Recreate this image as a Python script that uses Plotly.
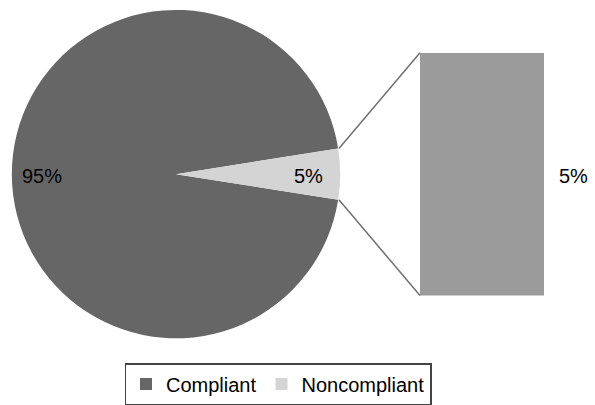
import math
import plotly.graph_objects as go

# Data
categories = ["Compliant", "Noncompliant"]
values = [95, 5]
bar_category = ["Noncompliant"]
bar_values = [5]

W, H = 595, 405
pie_colors = ["#666666", "#d4d4d4"]
bar_color = "#9b9b9b"
font_family = "Liberation Sans, Arial, sans-serif"
FS = 20

# pie domain (paper)
pdx = [11 / W, 341 / W]
pdy = [(H - 340) / H, (H - 10) / H]
# bar axis domains
bdx = [420 / W, 544 / W]
bdy = [(H - 297) / H, (H - 53) / H]

fig = go.Figure()

total = sum(values)
small_angle = 360 * values[1] / total
big_angle = 360 * values[0] / total
# clockwise from 12 o'clock; small slice centred at 3 o'clock
rotation = (90 - small_angle / 2 - big_angle) % 360

fig.add_trace(go.Pie(
    labels=categories, values=values, sort=False, direction="clockwise",
    rotation=rotation, marker=dict(colors=pie_colors, line=dict(width=0)),
    textinfo="none", hoverinfo="label+percent",
    domain=dict(x=pdx, y=pdy), showlegend=True,
))

fig.add_trace(go.Bar(
    x=bar_category, y=bar_values, width=1, marker=dict(color=bar_color, line=dict(width=0)),
    showlegend=False, xaxis="x", yaxis="y",
))

# geometry of the pie in pixels
cx = (pdx[0] + pdx[1]) / 2 * W
cy = H - (pdy[0] + pdy[1]) / 2 * H
r = min((pdx[1] - pdx[0]) * W, (pdy[1] - pdy[0]) * H) / 2

annotations = []
annotations.append(dict(
    x=(cx - 0.81 * r) / W, y=1 - cy / H, xanchor="center", yanchor="middle", yshift=-2,
    xref="paper", yref="paper", text=f"{values[0]}%", showarrow=False,
    font=dict(size=FS, color="#000000", family=font_family)))
annotations.append(dict(
    x=(cx + 0.8 * r) / W, y=1 - cy / H, xanchor="center", yanchor="middle", yshift=-2,
    xref="paper", yref="paper",
    text=f"{values[1]}%", showarrow=False,
    font=dict(size=FS, color="#000000", family=font_family)))
annotations.append(dict(
    x=0.5, y=bar_values[0] / 2, xref="x", yref="y", text=f"{bar_values[0]}%",
    showarrow=False, xanchor="center", yanchor="middle", xshift=29, yshift=-2,
    font=dict(size=FS, color="#000000", family=font_family)))

# connector lines from the slice edges to the bar corners
half = math.radians(small_angle / 2)
shapes = []
for sgn, ybar in ((1, bdy[1]), (-1, bdy[0])):
    px = cx + r * math.cos(half)
    py = cy - sgn * r * math.sin(half)
    shapes.append(dict(type="line", xref="paper", yref="paper",
                       x0=px / W, y0=1 - py / H, x1=bdx[0], y1=ybar,
                       line=dict(color="#707070", width=1.5)))

fig.update_layout(
    width=W, height=H, margin=dict(l=0, r=0, t=0, b=0),
    paper_bgcolor="white", plot_bgcolor="white",
    font=dict(family=font_family, size=FS, color="#000000"),
    xaxis=dict(domain=bdx, range=[-0.5, 0.5], visible=False, fixedrange=True),
    yaxis=dict(domain=bdy, range=[0, bar_values[0]], visible=False, fixedrange=True),
    legend=dict(orientation="h", x=278 / W, xanchor="center", y=1 - 365 / H, yanchor="top",
                bordercolor="#444444", borderwidth=1.5, font=dict(size=FS),
                itemwidth=30, tracegroupgap=0),
    annotations=annotations, shapes=shapes, bargap=0,
)

fig.write_html("out.html", config={"displayModeBar": False},
               post_script="document.body.style.margin='0';")
